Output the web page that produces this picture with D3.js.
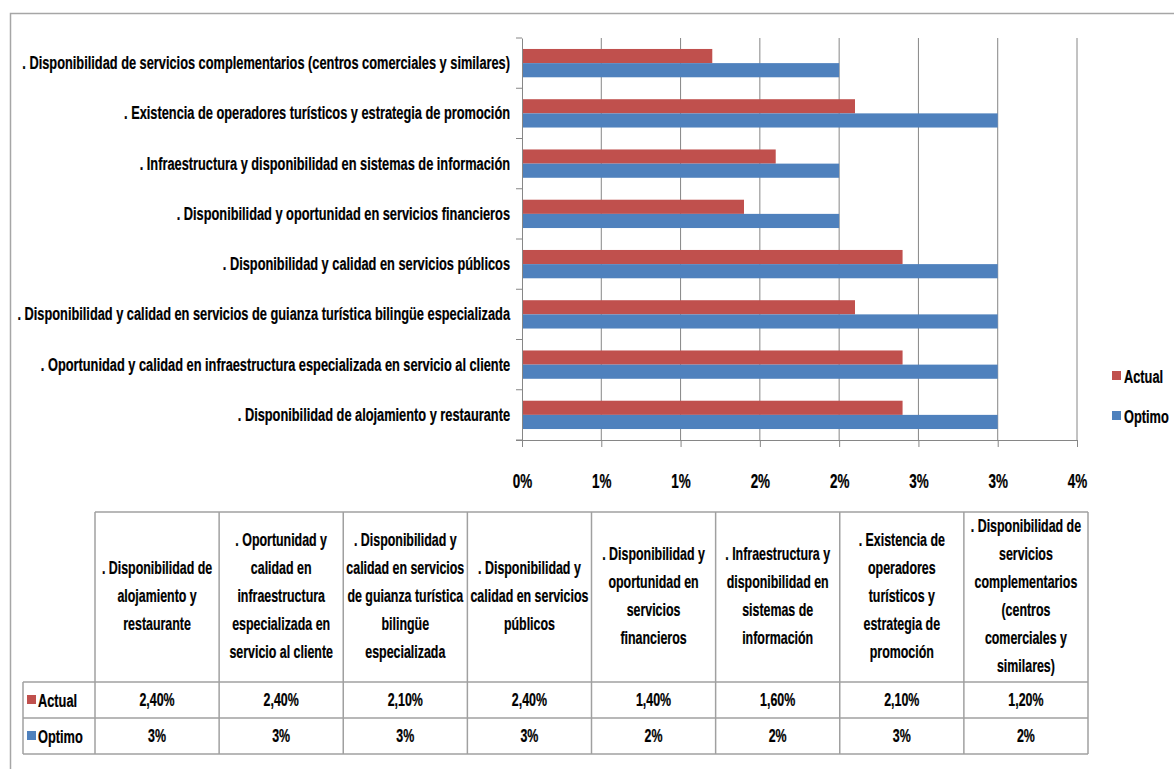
<!DOCTYPE html>
<html>
<head>
<meta charset="utf-8">
<script src="https://cdn.jsdelivr.net/npm/d3@7"></script>
<style>
  body { margin: 0; background: #fff; }
  svg text { font-family: 'Liberation Sans', Arial, sans-serif; font-weight: bold; fill: #000; stroke: #000; stroke-width: 0.25px; }
</style>
</head>
<body>
<svg id="chart" width="1174" height="769"></svg>
<script>
var categories = [". Disponibilidad de alojamiento y restaurante",
                  ". Oportunidad y calidad en infraestructura especializada en servicio al cliente",
                  ". Disponibilidad y calidad en servicios de guianza turística bilingüe especializada",
                  ". Disponibilidad y calidad en servicios públicos",
                  ". Disponibilidad y oportunidad en servicios financieros",
                  ". Infraestructura y disponibilidad en sistemas de información",
                  ". Existencia de operadores turísticos y estrategia de promoción",
                  ". Disponibilidad de servicios complementarios (centros comerciales y similares)"];
var seriesNames = ["Actual", "Optimo"];
var actual = [2.4, 2.4, 2.1, 2.4, 1.4, 1.6, 2.1, 1.2];
var optimo = [3, 3, 3, 3, 2, 2, 3, 2];
var xTicks = [0, 0.5, 1, 1.5, 2, 2.5, 3, 3.5];
var xTickLabels = ["0%", "1%", "1%", "2%", "2%", "3%", "3%", "4%"];

var colors = {Actual: "#C0504D", Optimo: "#4F81BD"};
var values = {Actual: actual, Optimo: optimo};

var locale = d3.formatLocale({decimal: ",", thousands: ".", grouping: [3], currency: ["", "%"]});
var cellFormat = {Actual: locale.format(".2%"), Optimo: locale.format(".0%")};

var svg = d3.select("#chart");
var gridColor = "#868686";

// chart area border
svg.append("rect")
    .attr("x", 10.5).attr("y", 13.5)
    .attr("width", 1300).attr("height", 900)
    .attr("fill", "#fff")
    .attr("stroke", "#a6a6a6")
    .attr("stroke-width", 1.5);

var plot = {left: 522, right: 1077, top: 38, bottom: 440};
var labelSize = 19;

// Calibri-like narrow text: measure the longest category label and squeeze all text the same way
var probeText = svg.append("text").style("font-size", labelSize + "px")
    .text(categories[7]);
var sx = 488 / probeText.node().getComputedTextLength();
probeText.remove();

var x = d3.scaleLinear().domain([0, 3.5]).range([plot.left, plot.right]);
var y = d3.scaleBand()
    .domain(categories.slice().reverse())
    .range([plot.top, plot.bottom]);
var barH = y.bandwidth() / 3.55;
var yInner = d3.scaleBand()
    .domain(seriesNames)
    .range([(y.bandwidth() - 2 * barH) / 2, (y.bandwidth() + 2 * barH) / 2]);

// gridlines
svg.append("g").selectAll("line")
    .data(xTicks.slice(1))
    .enter().append("line")
    .attr("x1", function(d) { return x(d); })
    .attr("x2", function(d) { return x(d); })
    .attr("y1", plot.top)
    .attr("y2", plot.bottom)
    .attr("stroke", gridColor)
    .attr("stroke-width", 1);

// bars
var rows = categories.map(function(c, i) {
    return seriesNames.map(function(s) { return {cat: c, series: s, value: values[s][i]}; });
});
svg.append("g").selectAll("g")
    .data(rows)
    .enter().append("g")
    .attr("transform", function(d) { return "translate(0," + y(d[0].cat) + ")"; })
    .selectAll("rect")
    .data(function(d) { return d; })
    .enter().append("rect")
    .attr("x", x(0))
    .attr("y", function(d) { return yInner(d.series); })
    .attr("width", function(d) { return x(d.value) - x(0); })
    .attr("height", yInner.bandwidth())
    .attr("fill", function(d) { return colors[d.series]; });

// x axis
var xAxis = svg.append("g")
    .attr("transform", "translate(0," + plot.bottom + ")")
    .call(d3.axisBottom(x)
        .tickValues(xTicks)
        .tickFormat(function(d, i) { return xTickLabels[i]; })
        .tickSizeInner(7)
        .tickSizeOuter(0)
        .tickPadding(27));
xAxis.select(".domain").attr("stroke", gridColor).attr("d", "M" + (plot.left - 6) + ",0.5H" + plot.right);
xAxis.selectAll(".tick line").attr("stroke", gridColor);
xAxis.selectAll("text").style("font-size", "20px");

// y axis
var yAxis = svg.append("g")
    .attr("transform", "translate(" + plot.left + ",0)")
    .call(d3.axisLeft(y).tickSize(0).tickPadding(12));
yAxis.select(".domain").attr("stroke", gridColor);
yAxis.selectAll("text").style("font-size", labelSize + "px");
yAxis.selectAll(".bound")
    .data(d3.range(categories.length + 1))
    .enter().append("line")
    .attr("class", "bound")
    .attr("x1", -6).attr("x2", 0)
    .attr("y1", function(d) { return plot.top + d * y.step(); })
    .attr("y2", function(d) { return plot.top + d * y.step(); })
    .attr("stroke", gridColor);

// legend
var legend = svg.append("g").selectAll("g")
    .data(seriesNames)
    .enter().append("g")
    .attr("transform", function(d, i) { return "translate(1112," + (371 + i * 40) + ")"; });
legend.append("rect")
    .attr("width", 9).attr("height", 9)
    .attr("fill", function(d) { return colors[d]; });
legend.append("text")
    .attr("x", 12).attr("y", 5)
    .attr("dy", "0.35em")
    .style("font-size", labelSize + "px")
    .text(function(d) { return d; });

// data table
var table = {left: 95, right: 1088, top: 512, head: 682, rowH: 36, keyLeft: 23};
var col = d3.scaleBand().domain(categories).range([table.left, table.right]);
var tableColor = "#a0a0a0";
var tg = svg.append("g");
var tableBottom = table.head + seriesNames.length * table.rowH;

tg.selectAll(".vline")
    .data(categories.map(function(c) { return col(c); }).concat([table.right]))
    .enter().append("line")
    .attr("x1", function(d) { return d; }).attr("x2", function(d) { return d; })
    .attr("y1", table.top).attr("y2", tableBottom)
    .attr("stroke", tableColor).attr("stroke-width", 1.5);
tg.append("line")
    .attr("x1", table.keyLeft).attr("x2", table.keyLeft)
    .attr("y1", table.head).attr("y2", tableBottom)
    .attr("stroke", tableColor).attr("stroke-width", 1.5);
tg.append("line")
    .attr("x1", table.left).attr("x2", table.right)
    .attr("y1", table.top).attr("y2", table.top)
    .attr("stroke", tableColor).attr("stroke-width", 1.5);
tg.selectAll(".hline")
    .data(d3.range(seriesNames.length + 1))
    .enter().append("line")
    .attr("x1", table.keyLeft).attr("x2", table.right)
    .attr("y1", function(d) { return table.head + d * table.rowH; })
    .attr("y2", function(d) { return table.head + d * table.rowH; })
    .attr("stroke", tableColor).attr("stroke-width", 1.5);

// header cells with wrapped text
var headSize = labelSize * 0.97;
var lineH = 28;
var maxW = (col.bandwidth() - 4) / sx;
tg.selectAll(".head")
    .data(categories)
    .enter().append("text")
    .attr("class", "head")
    .attr("text-anchor", "middle")
    .attr("x", function(d) { return col(d) + col.bandwidth() / 2; })
    .style("font-size", headSize + "px")
    .each(function(d) {
        var t = d3.select(this);
        var words = d.split(" ");
        var lines = [];
        var cur = "";
        var probe = t.append("tspan");
        words.forEach(function(w) {
            var test = cur ? cur + " " + w : w;
            probe.text(test);
            if (cur && cur !== "." && probe.node().getComputedTextLength() > maxW) {
                lines.push(cur);
                cur = w;
            } else {
                cur = test;
            }
        });
        lines.push(cur);
        probe.remove();
        var cx = col(d) + col.bandwidth() / 2;
        var cy = (table.top + table.head) / 2 - 1;
        var y0 = cy - (lines.length - 1) * lineH / 2;
        lines.forEach(function(l, i) {
            t.append("tspan")
                .attr("x", cx)
                .attr("y", y0 + i * lineH)
                .attr("dy", "0.35em")
                .text(l);
        });
    });

// value cells
seriesNames.forEach(function(s, r) {
    var cy = table.head + r * table.rowH + table.rowH / 2;
    tg.append("rect")
        .attr("x", 27).attr("y", cy - 5)
        .attr("width", 9).attr("height", 9)
        .attr("fill", colors[s]);
    tg.append("text")
        .attr("x", 38).attr("y", cy)
        .attr("dy", "0.35em")
        .style("font-size", labelSize + "px")
        .text(s);
    tg.selectAll(".v" + s)
        .data(values[s])
        .enter().append("text")
        .attr("x", function(d, i) { return col(categories[i]) + col.bandwidth() / 2; })
        .attr("y", cy)
        .attr("dy", "0.35em")
        .attr("text-anchor", "middle")
        .style("font-size", headSize + "px")
        .text(function(d) { return cellFormat[s](d / 100); });
});

// squeeze every text horizontally around its own x anchor
svg.selectAll("text").attr("transform", function() {
    var ax = +this.getAttribute("x") || 0;
    return "translate(" + ax + ",0) scale(" + sx + ",1) translate(" + (-ax) + ",0)";
});
</script>
</body>
</html>
